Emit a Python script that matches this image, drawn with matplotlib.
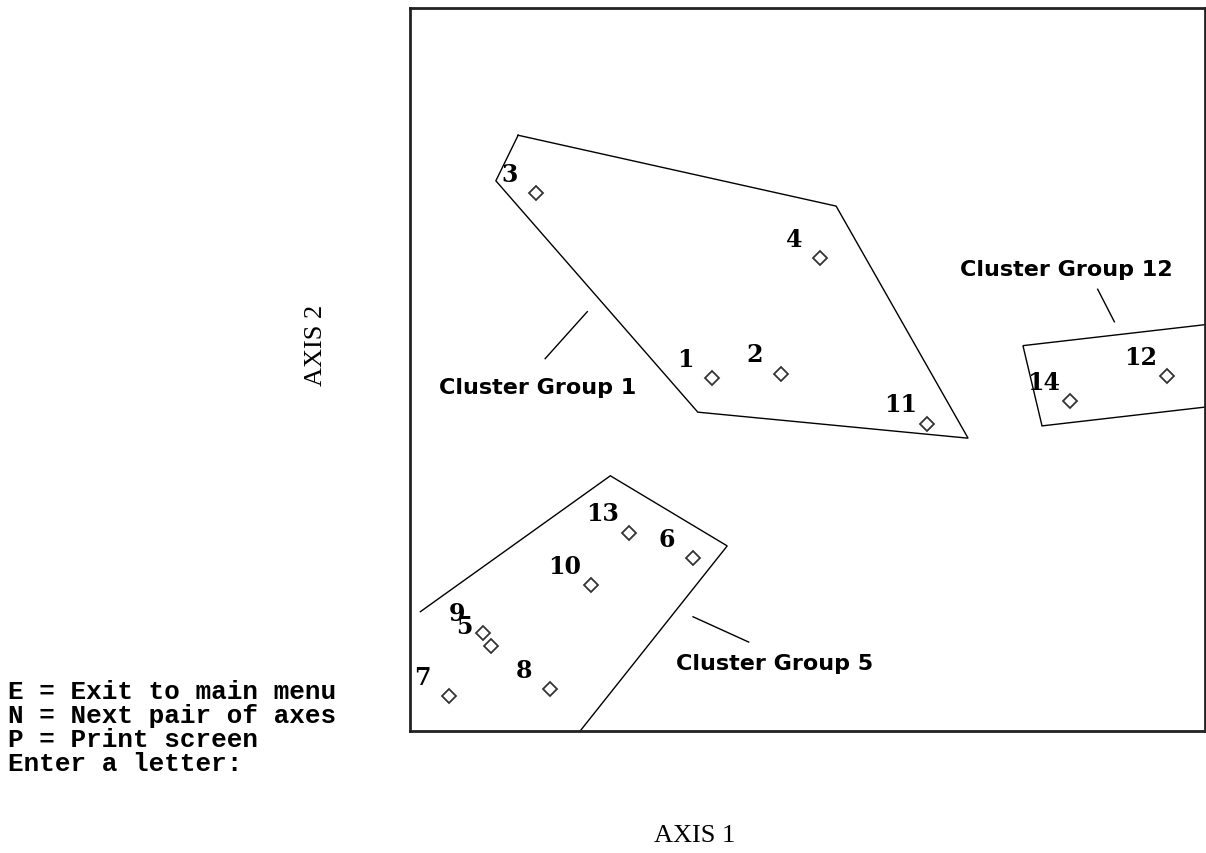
import matplotlib
matplotlib.use("Agg")
import matplotlib.pyplot as plt

# Ordination scores of the 14 sites on axes 1 and 2
site_ids = ["1", "2", "3", "4", "5", "6", "7", "8", "9", "10", "11", "12", "13", "14"]
axis1 = [38.0, 46.7, 15.8, 51.6, 10.2, 35.6, 4.9, 17.6, 9.2, 22.8, 65.0, 95.2, 27.5, 83.0]
axis2 = [48.8, 49.4, 74.4, 65.4, 11.8, 23.9, 4.8, 5.8, 13.6, 20.2, 42.5, 49.1, 27.4, 45.6]

# Outlines drawn around each cluster group (vertices in axis units)
group1_x = [13.6, 53.6, 70.2, 36.2, 10.8, 13.6]
group1_y = [82.4, 72.6, 40.5, 44.1, 76.1, 82.4]
group5_x = [1.3, 25.2, 39.9, 21.4]
group5_y = [16.5, 35.3, 25.6, 0.0]
group12_x = [100.0, 77.1, 79.5, 100.0]
group12_y = [56.2, 53.3, 42.2, 44.8]

# Group captions with their leader lines
group_names = ["Cluster Group 1", "Cluster Group 5", "Cluster Group 12"]
caption_x = [16.0, 45.8, 82.5]
caption_y = [47.6, 9.4, 63.9]
leader_x = [[17.0, 22.3], [35.6, 42.6], [86.5, 88.6]]
leader_y = [[51.5, 58.0], [15.8, 12.3], [61.1, 56.6]]

menu_lines = ["E = Exit to main menu", "N = Next pair of axes",
              "P = Print screen", "Enter a letter:"]

W, H = 1206, 854
fig = plt.figure(figsize=(W / 100, H / 100), dpi=100)
fig.patch.set_facecolor("white")

ax = fig.add_axes([410 / W, (H - 732) / H, 795 / W, 723 / H])
ax.set_xlim(0, 100)
ax.set_ylim(0, 100)
ax.set_xticks([])
ax.set_yticks([])
for sp in ax.spines.values():
    sp.set_linewidth(2.0)
    sp.set_color("#222222")

# cluster outlines
for gx, gy in [(group1_x, group1_y), (group5_x, group5_y), (group12_x, group12_y)]:
    ax.plot(gx, gy, color="black", lw=1.0, solid_joinstyle="miter")

# site markers and numbers
ax.plot(axis1, axis2, linestyle="none", marker="D", markersize=7.5,
        markerfacecolor="white", markeredgecolor="#333333", markeredgewidth=1.3)
for sid, x, y in zip(site_ids, axis1, axis2):
    ax.annotate(sid, (x, y), xytext=(-19, 14), textcoords="offset points",
                ha="center", va="center", fontsize=17, fontweight="bold",
                family="DejaVu Serif", color="black")

# group captions and leader lines
for name, cx, cy, lx, ly in zip(group_names, caption_x, caption_y, leader_x, leader_y):
    ax.plot(lx, ly, color="black", lw=1.0)
    ax.text(cx, cy, name, ha="center", va="center", fontsize=16,
            fontweight="bold", family="DejaVu Sans", color="black")

# axis titles
fig.text(695 / W, 1 - 836 / H, "AXIS 1", ha="center", va="center",
         fontsize=19, family="Liberation Serif")
fig.text(316 / W, 1 - 345 / H, "AXIS 2", ha="center", va="center",
         rotation=90, fontsize=19, family="Liberation Serif")

# menu prompt
for i, line in enumerate(menu_lines):
    fig.text(8 / W, 1 - (692 + 24 * i) / H, line, ha="left", va="center",
             fontsize=18.7, fontweight="bold", family="Liberation Mono")

fig.savefig("out.png", dpi=100, facecolor="white")
